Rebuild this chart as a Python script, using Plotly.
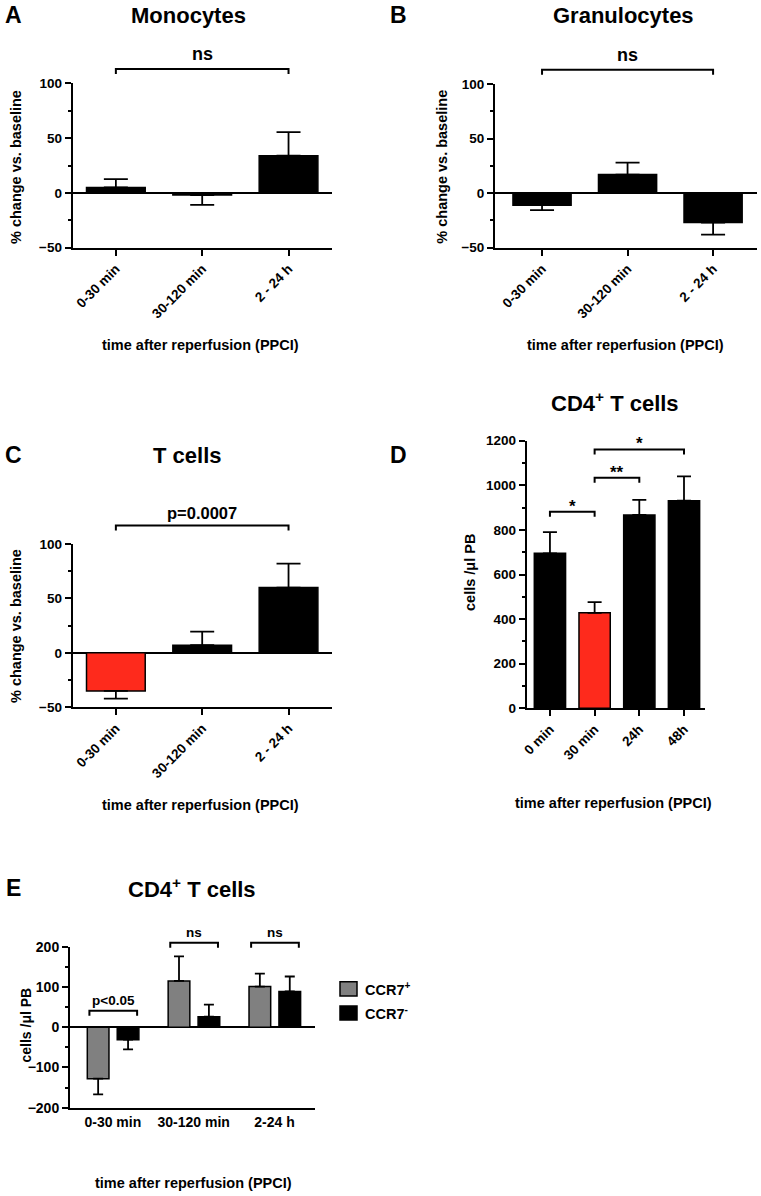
import plotly.graph_objects as go

W, H = 761, 1196
FONT = "Liberation Sans, Arial, sans-serif"

# ---------------- data ----------------
cats_pct = ["0-30 min", "30-120 min", "2 - 24 h"]
mono_vals = [5, -2, 34]
mono_sem = [7.5, 9, 21.5]
gran_vals = [-11, 17, -27]
gran_sem = [4.5, 11, 11]
tcell_vals = [-35, 7, 60]
tcell_sem = [7, 12.5, 22]

cd4_cats = ["0 min", "30 min", "24h", "48h"]
cd4_vals = [695, 428, 867, 931]
cd4_sem = [95, 48, 68, 109]

ccr_cats = ["0-30 min", "30-120 min", "2-24 h"]
ccr7_pos = [-128, 115, 101]
ccr7_pos_sem = [39, 61, 32]
ccr7_neg = [-31, 26, 89]
ccr7_neg_sem = [24, 30, 37]

RED = "#fe2a1c"
GRAY = "#808080"
tcell_colors = [RED, "black", "black"]
cd4_colors = ["black", RED, "black", "black"]


def err(vals, sem):
    plus = [s if v >= 0 else 0 for v, s in zip(vals, sem)]
    minus = [s if v < 0 else 0 for v, s in zip(vals, sem)]
    return plus, minus


def fnt(size, weight=700):
    return dict(family=FONT, size=size, color="black", weight=weight)


fig = go.Figure()

# panel geometry in pixels: (x_left, x_right, y_top, y_bottom)
panels = {
    "A": dict(ax="", box=(72.7, 331.7, 83.3, 247.7), yr=(-50, 100), xr=(-0.5, 2.5)),
    "B": dict(ax="2", box=(495, 756.7, 84, 247.7), yr=(-50, 100), xr=(-0.55, 2.51)),
    "C": dict(ax="3", box=(72.7, 331.7, 544, 707.3), yr=(-50, 100), xr=(-0.5, 2.5)),
    "D": dict(ax="4", box=(526.7, 705, 440.7, 708.3), yr=(0, 1200), xr=(-0.52, 3.47)),
    "E": dict(ax="5", box=(70, 315, 946.7, 1107.7), yr=(-200, 200), xr=(-0.53, 2.5)),
}


def add_bar(panel, cats, vals, sem, colors, width, capw, offset=None, name=None):
    p = panels[panel]
    plus, minus = err(vals, sem)
    kw = {}
    if offset is not None:
        kw["offset"] = offset
    fig.add_trace(go.Bar(
        x=cats, y=vals, width=width, name=name,
        marker=dict(color=colors, line=dict(color="black", width=1.5)),
        error_y=dict(type="data", symmetric=False, array=plus, arrayminus=minus,
                     color="black", thickness=1.8, width=capw),
        xaxis="x" + p["ax"], yaxis="y" + p["ax"], showlegend=False, **kw))


add_bar("A", cats_pct, mono_vals, mono_sem, "black", 0.68, 12)
add_bar("B", cats_pct, gran_vals, gran_sem, "black", 0.68, 12)
add_bar("C", cats_pct, tcell_vals, tcell_sem, tcell_colors, 0.68, 12)
add_bar("D", cd4_cats, cd4_vals, cd4_sem, cd4_colors, 0.7, 7)
add_bar("E", ccr_cats, ccr7_pos, ccr7_pos_sem, GRAY, 0.268, 5, offset=-0.316, name="CCR7+")
add_bar("E", ccr_cats, ccr7_neg, ccr7_neg_sem, "black", 0.268, 5, offset=0.054, name="CCR7-")

layout = dict(width=W, height=H, margin=dict(l=0, r=0, t=0, b=0, autoexpand=False),
              paper_bgcolor="white", plot_bgcolor="white", barmode="overlay",
              showlegend=False)

ydt = {"A": (50, 25), "B": (50, 25), "C": (50, 25), "D": (200, 100), "E": (100, 50)}
xtick_fs = {"A": 13.5, "B": 13.5, "C": 13.5, "D": 13.5, "E": 14}
ytick_fs = {"A": 13.5, "B": 13.5, "C": 13.5, "D": 13.5, "E": 14}
for k, p in panels.items():
    x0, x1, yt, yb = p["box"]
    layout["xaxis" + p["ax"]] = dict(
        domain=[x0 / W, x1 / W], anchor="y" + p["ax"], type="category",
        range=list(p["xr"]), showline=True, linecolor="black", linewidth=2,
        ticks="" if k == "E" else "outside", ticklen=6, tickwidth=2, tickcolor="black",
        tickangle=0 if k == "E" else -45, tickfont=fnt(xtick_fs[k]),
        showgrid=False, zeroline=False, fixedrange=True, automargin=False)
    layout["yaxis" + p["ax"]] = dict(
        domain=[1 - yb / H, 1 - yt / H], anchor="x" + p["ax"], range=list(p["yr"]),
        tick0=0, dtick=ydt[k][0], showline=True, linecolor="black", linewidth=2,
        ticks="outside", ticklen=6, tickwidth=2, tickcolor="black",
        tickfont=fnt(ytick_fs[k]), showgrid=False,
        zeroline=(k != "D"), zerolinecolor="black", zerolinewidth=2,
        minor=dict(ticks="outside", ticklen=3, tickwidth=1.5, tickcolor="black",
                   dtick=ydt[k][1], tick0=0, showgrid=False),
        fixedrange=True, automargin=False)

shapes = []
annotations = []


def bracket(panel, xa, xb, yv, label, size, yshift=1, drop=5):
    p = panels[panel]
    x0, x1, yt, yb = p["box"]
    r0, r1 = p["yr"]
    yf = (yv - r0) / (r1 - r0)
    df = drop / (yb - yt)
    shapes.append(dict(type="path", xref="x" + p["ax"], yref="y" + p["ax"] + " domain",
                       path=f"M{xa},{yf - df} L{xa},{yf} L{xb},{yf} L{xb},{yf - df}",
                       line=dict(color="black", width=2)))
    annotations.append(dict(x=(xa + xb) / 2, y=yf, xref="x" + p["ax"],
                            yref="y" + p["ax"] + " domain", text=label, showarrow=False,
                            yanchor="bottom", yshift=yshift, font=fnt(size)))


bracket("A", 0, 2, 113, "ns", 18, yshift=3)
bracket("B", 0, 2, 113, "ns", 18, yshift=3)
bracket("C", 0, 2, 117, "p=0.0007", 16.5)
bracket("D", 0, 1, 881, "*", 17, yshift=-6)
bracket("D", 1, 2, 1034, "**", 17, yshift=-6)
bracket("D", 1, 3, 1161, "*", 17, yshift=-6)
bracket("E", -0.29, 0.3, 41, "p<0.05", 13.5)
bracket("E", 0.71, 1.3, 210, "ns", 13.5)
bracket("E", 1.71, 2.3, 210, "ns", 13.5)


def text(xpx, ypx, s, size, angle=0, xanchor="center"):
    annotations.append(dict(x=xpx / W, y=1 - ypx / H, xref="paper", yref="paper",
                            text=s, showarrow=False, textangle=angle, font=fnt(size),
                            xanchor=xanchor, yanchor="middle"))


text(13, 15, "A", 23)
text(188, 15, "Monocytes", 22)
text(398, 15, "B", 23)
text(623, 15, "Granulocytes", 22)
text(13, 455, "C", 23)
text(187, 455, "T cells", 22)
text(398, 455, "D", 23)
text(615, 402, "CD4<sup>+</sup> T cells", 22)
text(13, 888, "E", 23)
text(192, 888, "CD4<sup>+</sup> T cells", 22)

xt = "time after reperfusion (PPCI)"
text(200, 345, xt, 14.5)
text(625, 345, xt, 14.5)
text(200, 805, xt, 14.5)
text(613, 803, xt, 14.5)
text(193, 1183, xt, 14.5)
yt_pct = "% change vs. baseline"
text(16, 167, yt_pct, 14.5, angle=-90)
text(441.7, 167, yt_pct, 14.5, angle=-90)
text(16, 626, yt_pct, 14.5, angle=-90)
text(470, 573, "cells /μl PB", 14.5, angle=-90)
text(25.5, 1025, "cells /μl PB", 14, angle=-90)

# legend of panel E
for (ytop, ybot, col, lab) in [(981.7, 996, GRAY, "CCR7<sup>+</sup>"),
                               (1006, 1020, "black", "CCR7<sup>-</sup>")]:
    shapes.append(dict(type="rect", xref="paper", yref="paper",
                       x0=340 / W, x1=357 / W, y0=1 - ybot / H, y1=1 - ytop / H,
                       fillcolor=col, line=dict(color="black", width=1.5)))
    text(363, (ytop + ybot) / 2, lab, 14.5, xanchor="left")

layout["shapes"] = shapes
layout["annotations"] = annotations
fig.update_layout(**layout)
fig.write_html(
    "out.html",
    config={"displayModeBar": False},
    post_script="document.body.style.margin='0';document.body.style.padding='0';"
                "document.documentElement.style.overflow='hidden';")
